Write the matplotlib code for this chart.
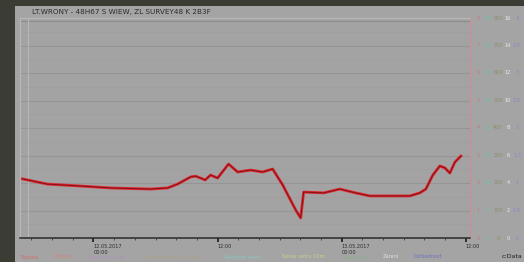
import matplotlib.pyplot as plt
from matplotlib.patches import Rectangle
from matplotlib.ticker import MultipleLocator

W, H = 524, 262

# hours relative to 12.05.2017 00:00, value on the left scale
hours = [-6.87, -4.45, -1.26, 1.65, 5.52, 7.16, 8.13, 9.39, 9.87, 10.35, 10.8,
         11.32, 12.0, 13.06, 13.94, 15.19, 16.35, 17.32, 18.29, 19.55, 20.03,
         20.32, 22.26, 23.81, 25.35, 26.71, 28.65, 30.58, 31.55, 32.13, 32.81,
         33.48, 33.97, 34.45, 34.94, 35.52]
values = [2.15, 1.96, 1.89, 1.82, 1.78, 1.82, 1.96, 2.22, 2.25, 2.18, 2.11,
          2.29, 2.18, 2.69, 2.40, 2.47, 2.40, 2.51, 1.93, 1.02, 0.73,
          1.67, 1.64, 1.78, 1.64, 1.53, 1.53, 1.53, 1.64, 1.78, 2.29,
          2.62, 2.55, 2.36, 2.76, 2.98]

tick_hours = [0, 12, 24, 36]
tick_labels = ["12.05.2017\n00:00", "12:00", "13.05.2017\n00:00", "12:00"]
levels = [8, 7, 6, 5, 4, 3, 2, 1, 0]
right_cols = [["8", "7", "6", "5", "4", "3", "2", "1", "0"],
              ["40", "35", "30", "25", "20", "15", "10", "5", "0"],
              ["800", "700", "600", "500", "400", "300", "200", "100", "0"],
              ["16", "14", "12", "10", "8", "6", "4", "2", "0"],
              ["4", "3.5", "3", "2.5", "2", "1.5", "1", "0.5", "0"]]
right_colors = ["#c07c86", "#6cc4a4", "#8c8c64", "#ececec", "#8a86c8"]
legend_names = ["Teplota", "Vlhkost", "Rosny bod 2m", "Tlak prepocteny na more",
                "Rychlost vetru", "Naraz vetru 10m", "Srazky 1h", "Zareni",
                "Dohlednost"]
legend_colors = ["#d07070", "#d88080", "#b090c0", "#b0a088", "#88c8c8",
                 "#c8d088", "#88b088", "#e0e0e0", "#7070c8"]

fig = plt.figure(figsize=(W / 100, H / 100), dpi=100, facecolor="#3b3d34")
fig.patches.append(Rectangle((15 / W, 0), 1, (H - 6) / H, transform=fig.transFigure,
                             facecolor="#a4a4a4", edgecolor="none", zorder=-10))

x0, x1, y0, y1 = 20, 470, 18, 238
ax = fig.add_axes([x0 / W, (H - y1) / H, (x1 - x0) / W, (y1 - y0) / H])
ax.set_facecolor("#a3a3a3")
ax.set_xlim(-7.1, 36.4)
ax.set_ylim(0, 8)

for v in levels:
    ax.axhline(v, color="#959595", lw=0.8, zorder=1)
for v in [0.5 + i for i in range(8)]:
    ax.axhline(v, color="#9e9e9e", lw=0.5, zorder=1)
ax.axhline(7.9, color="#8a8a8a", lw=0.7, zorder=1)
ax.axvline(-6.3, color="#b8b8b8", lw=0.7)

ax.plot(hours, values, color="#e0242c", lw=2.0, zorder=3, solid_joinstyle="round")
ax.plot(hours, values, color="#801418", lw=0.7, zorder=4)

for s in ["top", "left"]:
    ax.spines[s].set_color("#b8b8b8")
ax.spines["right"].set_color("#d88a92")
ax.spines["bottom"].set_color("#2a2a2a")
ax.spines["bottom"].set_linewidth(1.1)

ax.set_yticks([])
ax.set_xticks(tick_hours)
ax.set_xticklabels(tick_labels, fontsize=3.6, color="#2a2a2a", ha="left",
                   linespacing=1.1)
ax.xaxis.set_minor_locator(MultipleLocator(2))
ax.tick_params(axis="x", which="major", length=3, width=1.2, color="#1a1a1a", pad=1.5)
ax.tick_params(axis="x", which="minor", length=1.5, width=0.6, color="#3a3a3a")

# right-hand scales
col_x = [478, 488, 498, 508, 517]
for labels, cx, c in zip(right_cols, col_x, right_colors):
    for lv, lab in zip(levels, labels):
        py = y1 - lv * (y1 - y0) / 8
        fig.text(cx / W, 1 - py / H, lab, fontsize=3.6, color=c,
                 ha="center", va="center")

fig.text(32 / W, 1 - 12 / H, "LT.WRONY - 48H67 S WIEW, ZL SURVEY48 K 2B3F",
         fontsize=5.2, color="#2c2c2c", ha="left", va="center")

lx = 20
for name, c in zip(legend_names, legend_colors):
    fig.text(lx / W, 1 - 257 / H, name, fontsize=3.6, color=c,
             ha="left", va="center")
    lx += len(name) * 3.2 + 12
fig.text(522 / W, 1 - 257 / H, "c:Data", fontsize=4.5, color="#1a1a1a",
         ha="right", va="center")

fig.savefig("out.png", dpi=100, facecolor=fig.get_facecolor())
